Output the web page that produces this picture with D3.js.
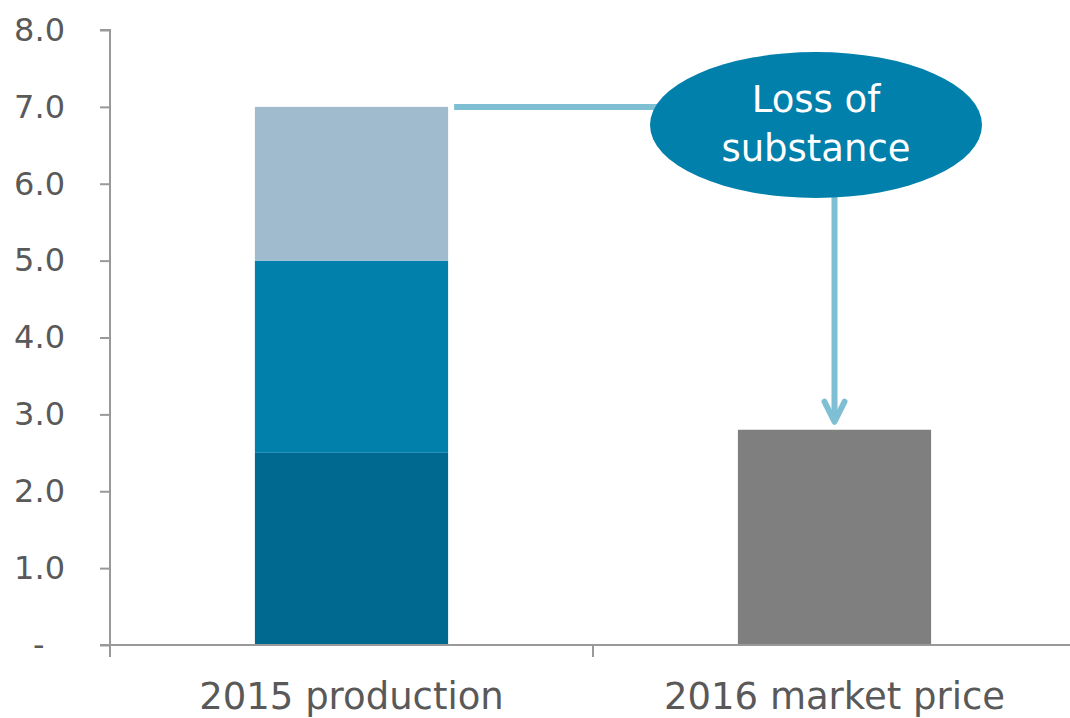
<!DOCTYPE html>
<html>
<head>
<meta charset="utf-8">
<script src="https://cdn.jsdelivr.net/npm/d3@7"></script>
<style>
  html, body { margin: 0; padding: 0; background: #fff; }
  svg { display: block; font-family: "DejaVu Sans", sans-serif; }
</style>
</head>
<body>
<svg id="chart" width="1070" height="718"></svg>
<script>
// Categories and values (value units on the y axis)
const categories = ["2015 production", "2016 market price"];
const productionSegments = [2.5, 2.5, 2.0];       // stacked pieces of 2015 production
const segmentColors = ["#00698F", "#0080AB", "#A1BBCE"];
const marketPrice = [2.8];                         // 2016 market price
const yTicks = [0, 1, 2, 3, 4, 5, 6, 7, 8];
const calloutLines = ["Loss of", "substance"];

const svg = d3.select("#chart");
const axisColor = "#999999";
const textColor = "#595959";

const y = d3.scaleLinear().domain([0, 8]).range([645, 30]);
const x = d3.scaleBand().domain(categories).range([110, 1076]).padding(0);
const barW = x.bandwidth() * 0.4;
const cx = c => x(c) + x.bandwidth() / 2;

// Stacked bar for 2015 production
let acc = 0;
const stack = productionSegments.map((v, i) => {
  const s = { y0: acc, y1: acc + v, color: segmentColors[i] };
  acc += v;
  return s;
});
svg.append("g").selectAll("rect").data(stack).join("rect")
  .attr("x", cx(categories[0]) - barW / 2)
  .attr("width", barW)
  .attr("y", d => y(d.y1))
  .attr("height", d => y(d.y0) - y(d.y1))
  .attr("fill", d => d.color);

// Single bar for 2016 market price
svg.append("g").selectAll("rect").data(marketPrice).join("rect")
  .attr("x", cx(categories[1]) - barW / 2)
  .attr("width", barW)
  .attr("y", d => y(d))
  .attr("height", d => y(0) - y(d))
  .attr("fill", "#7F7F7F");

// Y axis
const yAxis = d3.axisLeft(y)
  .tickValues(yTicks)
  .tickSize(10)
  .tickPadding(35)
  .tickFormat(d => d === 0 ? "-\u00a0\u00a0" : d3.format(".1f")(d));
const gy = svg.append("g").attr("transform", "translate(110,0)").call(yAxis);
gy.select(".domain").attr("stroke", axisColor).attr("stroke-width", 2)
  .attr("d", `M-10,${y(8)}H0V${y(0)}`);
gy.selectAll(".tick line").attr("stroke", axisColor).attr("stroke-width", 2);
gy.selectAll(".tick text").attr("fill", textColor)
  .style("font-family", "DejaVu Sans").style("font-size", "32px");

// X axis: line, category labels, and ticks on band boundaries
const xAxis = d3.axisBottom(x).tickSize(0).tickPadding(38);
const gx = svg.append("g").attr("transform", `translate(0,${y(0)})`).call(xAxis);
gx.select(".domain").attr("stroke", axisColor).attr("stroke-width", 2)
  .attr("d", `M100,0H1076`);
gx.selectAll(".tick text").attr("fill", textColor)
  .style("font-family", "DejaVu Sans").style("font-size", "37px");
gx.selectAll("line.bound").data(categories).join("line").attr("class", "bound")
  .attr("x1", d => x(d)).attr("x2", d => x(d))
  .attr("y1", 0).attr("y2", 12)
  .attr("stroke", axisColor).attr("stroke-width", 2);

// Callout: connector from top of production bar, bubble, arrow down to market price
const arrowColor = "#7FBFD4";
const bubble = { x: 816, y: 125, rx: 166, ry: 73 };
const topVal = d3.sum(productionSegments);
const arrowX = cx(categories[1]);

svg.append("line")
  .attr("x1", cx(categories[0]) + barW / 2 + 6).attr("x2", bubble.x)
  .attr("y1", y(topVal)).attr("y2", y(topVal))
  .attr("stroke", arrowColor).attr("stroke-width", 6);

svg.append("line")
  .attr("x1", arrowX).attr("x2", arrowX)
  .attr("y1", bubble.y).attr("y2", y(marketPrice[0]) - 9)
  .attr("stroke", arrowColor).attr("stroke-width", 6);

const tipY = y(marketPrice[0]) - 8;
svg.append("path")
  .attr("d", `M${arrowX - 10},${tipY - 20}L${arrowX},${tipY}L${arrowX + 10},${tipY - 20}`)
  .attr("fill", "none").attr("stroke", arrowColor).attr("stroke-width", 6)
  .attr("stroke-linecap", "round").attr("stroke-linejoin", "round");

svg.append("ellipse")
  .attr("cx", bubble.x).attr("cy", bubble.y)
  .attr("rx", bubble.rx).attr("ry", bubble.ry)
  .attr("fill", "#0080AB");

svg.append("text")
  .attr("x", bubble.x).attr("text-anchor", "middle")
  .attr("fill", "#ffffff")
  .style("font-size", "37px")
  .selectAll("tspan").data(calloutLines).join("tspan")
  .attr("x", bubble.x)
  .attr("y", (d, i) => 112 + i * 49)
  .text(d => d);
</script>
</body>
</html>
